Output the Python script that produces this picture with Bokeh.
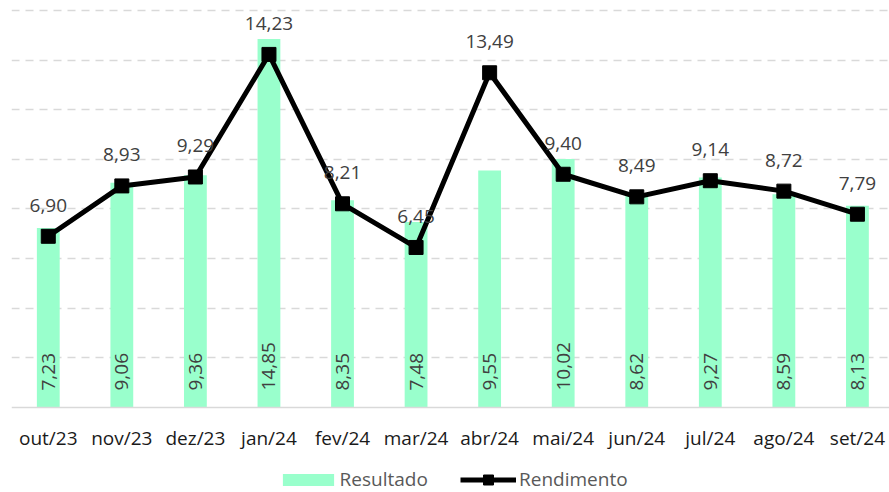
import numpy as np
from bokeh.plotting import figure
from bokeh.models import (Range1d, FixedTicker, ColumnDataSource, Legend,
                          LegendItem, Grid)
from bokeh.core.properties import value
from bokeh.embed import file_html
from bokeh.resources import INLINE

meses = ["out/23", "nov/23", "dez/23", "jan/24", "fev/24", "mar/24",
         "abr/24", "mai/24", "jun/24", "jul/24", "ago/24", "set/24"]
resultado = [7.23, 9.06, 9.36, 14.85, 8.35, 7.48, 9.55, 10.02, 8.62, 9.27, 8.59, 8.13]
rendimento = [6.90, 8.93, 9.29, 14.23, 8.21, 6.45, 13.49, 9.40, 8.49, 9.14, 8.72, 7.79]
grid_ticks = [2, 4, 6, 8, 10, 12, 14, 16]

FONT = "Open Sans"
FS = "19px"
xs = list(range(len(meses)))


def fmt(v):
    return f"{v:.2f}".replace(".", ",")


src = ColumnDataSource(dict(
    x=xs, res=resultado, ren=rendimento,
    res_lbl=[fmt(v) for v in resultado],
    ren_lbl=[fmt(v) for v in rendimento],
    zero=[0] * len(xs),
))

p = figure(width=889, height=492, output_backend="svg", toolbar_location=None,
           x_range=Range1d(-0.5, 11.436), y_range=Range1d(-3.426, 16.403),
           y_axis_location=None, min_border_left=11, min_border_right=0,
           min_border_top=0, min_border_bottom=0)
p.outline_line_color = None
p.xgrid.visible = False
p.ygrid.visible = False
p.add_layout(Grid(dimension=1, ticker=FixedTicker(ticks=grid_ticks),
                  grid_line_color="#D9D9D9", grid_line_width=1.5,
                  grid_line_dash="8 6"))

bars = p.vbar(x="x", top="res", bottom=0, width=0.31, source=src,
              fill_color="#99FFCC", line_color=None)
ln = p.line(x="x", y="ren", source=src, line_color="black", line_width=5)
sq = p.scatter(x="x", y="ren", source=src, marker="square", size=14,
               fill_color="black", line_color="black")

p.text(x="x", y="zero", text="res_lbl", source=src, angle=np.pi / 2,
       text_align="left", text_baseline="middle", y_offset=-17,
       text_font=value(FONT), text_font_size=FS, text_color="#404040")
p.text(x="x", y="ren", text="ren_lbl", source=src,
       text_align="center", text_baseline="alphabetic", y_offset=-31,
       text_font=value(FONT), text_font_size=FS, text_color="#404040")

ax = p.xaxis[0]
ax.fixed_location = 0
ax.ticker = FixedTicker(ticks=xs)
ax.major_label_overrides = {i: m for i, m in zip(xs, meses)}
ax.major_tick_line_color = None
ax.minor_tick_line_color = None
ax.axis_line_color = "#D9D9D9"
ax.axis_line_width = 1.5
ax.major_label_standoff = 12
ax.major_label_text_font = FONT
ax.major_label_text_font_size = FS
ax.major_label_text_color = "#1A1A1A"

leg1 = Legend(items=[LegendItem(label="Resultado", renderers=[bars])],
              location=(264.6, 0), orientation="horizontal",
              glyph_width=64, glyph_height=15, label_height=25,
              label_standoff=0,
              padding=0, margin=0, border_line_color=None,
              background_fill_alpha=0,
              label_text_font=FONT, label_text_font_size=FS,
              label_text_color="#595959")
leg2 = Legend(items=[LegendItem(label="Rendimento", renderers=[ln, sq])],
              location=(449, 0), orientation="horizontal",
              glyph_width=56, glyph_height=25, label_height=25,
              label_standoff=3,
              padding=0, margin=0, border_line_color=None,
              background_fill_alpha=0,
              label_text_font=FONT, label_text_font_size=FS,
              label_text_color="#595959")
p.add_layout(leg1, "center")
p.add_layout(leg2, "center")

open("out.html", "w").write(file_html(p, INLINE))
